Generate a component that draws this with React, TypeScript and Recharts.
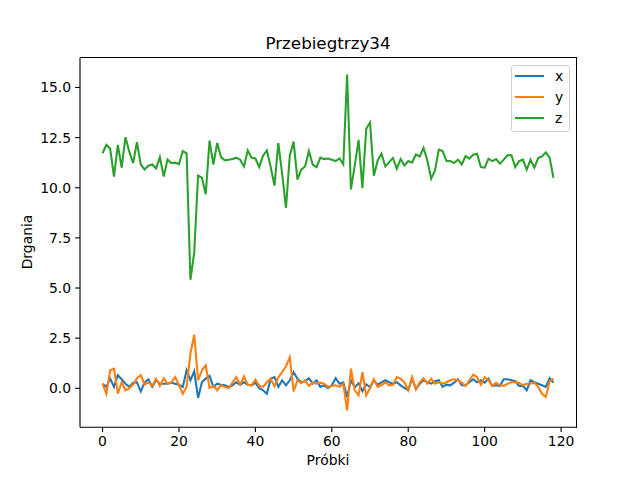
import React from "react";
import { LineChart, Line, XAxis, YAxis } from "recharts";

const samples: number[] = Array.from({ length: 119 }, (_, i) => i);

const xSeries: number[] = [
  0.23, 0.07, 0.48, 0.07, 0.65, 0.45, 0.23, 0.07, 0.28, 0.3,
  -0.15, 0.3, 0.45, 0.07, 0.4, 0.23, 0.23, 0.23, 0.28, 0.23,
  0.18, 0.07, 0.9, 0.4, 0.85, -0.48, 0.3, 0.48, 0.62, 0.07,
  0.23, 0.18, 0.15, 0.07, 0.15, 0.3, 0.18, 0.3, 0.18, 0.15,
  0.28, 0.0, -0.1, -0.27, 0.48, 0.56, 0.07, 0.4, 0.15, 0.4,
  0.8, 0.48, 0.3, 0.35, 0.5, 0.23, 0.4, 0.07, 0.15, 0.02,
  0.15, 0.5, 0.23, 0.3, -0.43, 0.4, 0.05, 0.25, -0.15, 0.2,
  0.05, 0.4, 0.18, 0.3, 0.4, 0.3, 0.23, 0.3, 0.15, 0.02,
  -0.1, 0.5, -0.05, 0.23, 0.4, 0.3, 0.23, 0.35, 0.4, 0.07,
  0.18, 0.15, 0.28, 0.45, 0.15, 0.15, 0.3, 0.45, 0.3, 0.4,
  0.28, 0.48, 0.12, 0.15, 0.12, 0.45, 0.45, 0.4, 0.35, 0.12,
  0.12, -0.1, 0.4, 0.3, 0.23, 0.15, 0.07, 0.5, 0.28,
];

const ySeries: number[] = [
  0.23, -0.27, 0.9, 0.98, -0.27, 0.3, -0.1, 0.0, 0.18, 0.5,
  0.65, 0.18, 0.3, 0.12, 0.48, 0.12, 0.5, 0.23, 0.3, 0.56,
  0.15, -0.27, 0.07, 1.73, 2.67, 0.4, 0.9, 1.15, 0.02, 0.12,
  -0.1, 0.15, 0.07, 0.0, 0.28, 0.56, 0.18, 0.6, 0.18, 0.15,
  0.43, 0.12, 0.07, 0.3, 0.48, 0.1, 0.55, 0.8, 1.1, 1.55,
  -0.15, 0.4, 0.25, 0.4, 0.12, 0.28, 0.23, 0.28, 0.23, 0.07,
  0.12, 0.15, 0.07, 0.23, -1.1, 0.98, -0.1, -0.35, 0.8, -0.35,
  0.0, 0.45, 0.07, 0.15, 0.3, 0.15, 0.18, 0.56, 0.48, 0.3,
  -0.1, 0.56, -0.05, 0.3, 0.5, 0.23, 0.48, 0.23, 0.3, 0.23,
  0.3, 0.4, 0.45, 0.4, 0.28, 0.12, 0.4, 0.68, 0.56, 0.18,
  0.56, 0.4, 0.12, 0.28, 0.15, 0.12, 0.23, 0.3, 0.3, 0.28,
  0.15, 0.23, 0.23, 0.28, 0.07, -0.27, -0.43, 0.35, 0.48,
];

const zSeries: number[] = [
  11.72, 12.14, 11.94, 10.56, 12.14, 11.0, 12.52, 11.8, 11.23, 12.27,
  11.16, 10.91, 11.1, 11.16, 10.96, 11.53, 10.56, 11.41, 11.23, 11.25,
  11.18, 11.83, 11.72, 5.41, 6.79, 10.61, 10.5, 9.67, 12.35, 11.16,
  12.23, 11.53, 11.37, 11.4, 11.43, 11.5, 11.4, 11.06, 11.86, 11.5,
  11.46, 11.03, 11.6, 11.86, 11.03, 10.11, 12.23, 10.7, 9.0, 11.6,
  12.3, 10.4, 10.9, 11.06, 11.83, 11.16, 11.03, 11.5, 11.43, 11.46,
  11.4, 11.33, 11.46, 11.16, 15.65, 9.92, 11.1, 12.39, 9.98, 12.94,
  13.25, 10.6, 11.36, 11.7, 11.06, 11.28, 11.48, 10.95, 11.43, 11.11,
  11.33, 11.25, 11.66, 11.56, 11.98, 11.36, 10.45, 10.86, 11.9, 11.83,
  11.33, 11.33, 11.23, 11.4, 11.16, 11.58, 11.45, 11.65, 11.7, 11.03,
  11.0, 11.45, 11.33, 11.43, 11.2, 11.4, 11.63, 11.62, 11.03, 11.33,
  11.4, 10.9, 11.4, 11.0, 11.48, 11.56, 11.76, 11.5, 10.5,
];

const seriesNames: string[] = ["x", "y", "z"];
const seriesColors: string[] = ["#1f77b4", "#ff7f0e", "#2ca02c"];
const xTicks: number[] = [0, 20, 40, 60, 80, 100, 120];
const yTicks: number[] = [0, 2.5, 5, 7.5, 10, 12.5, 15];

const title = "Przebiegtrzy34";
const xLabel = "Próbki";
const yLabel = "Drgania";

const data = samples.map((s, i) => ({
  s,
  x: xSeries[i],
  y: ySeries[i],
  z: zSeries[i],
}));

const FONT = "'DejaVu Sans', sans-serif";

export default function App() {
  const tickStyle = { fill: "#000", fontSize: 13.9, fontFamily: FONT };
  return (
    <div
      style={{
        position: "absolute",
        left: 0,
        top: 0,
        width: 640,
        height: 480,
        background: "#fff",
        fontFamily: FONT,
      }}
    >
      <LineChart
        width={640}
        height={480}
        data={data}
        margin={{ top: 57.6, right: 64, bottom: 0, left: 0 }}
      >
        <XAxis
          dataKey="s"
          type="number"
          domain={[-5.9, 123.9]}
          ticks={xTicks}
          allowDataOverflow
          height={52.8}
          tickSize={4.9}
          tickMargin={4}
          tick={tickStyle}
          tickLine={{ stroke: "#000", strokeWidth: 1.1 }}
          axisLine={{ stroke: "#000", strokeWidth: 1.1 }}
        />
        <YAxis
          type="number"
          domain={[-1.94, 16.49]}
          ticks={yTicks}
          allowDataOverflow
          width={80}
          tickSize={4.9}
          tickMargin={4}
          tick={tickStyle}
          tickFormatter={(v: number) => v.toFixed(1)}
          tickLine={{ stroke: "#000", strokeWidth: 1.1 }}
          axisLine={{ stroke: "#000", strokeWidth: 1.1 }}
        />
        {seriesNames.map((n, i) => (
          <Line
            key={n}
            dataKey={n}
            type="linear"
            stroke={seriesColors[i]}
            strokeWidth={2.08}
            dot={false}
            activeDot={false}
            isAnimationActive={false}
          />
        ))}
      </LineChart>
      <div
        style={{
          position: "absolute",
          left: 79.5,
          top: 57,
          width: 497,
          height: 370.5,
          boxSizing: "border-box",
          borderTop: "1.1px solid #000",
          borderRight: "1.1px solid #000",
          pointerEvents: "none",
        }}
      />
      <div
        style={{
          position: "absolute",
          left: 0,
          width: 656,
          top: 33,
          textAlign: "center",
          fontSize: 16.7,
          color: "#000",
        }}
      >
        {title}
      </div>
      <div
        style={{
          position: "absolute",
          left: 0,
          width: 656,
          top: 452,
          textAlign: "center",
          fontSize: 13.9,
          color: "#000",
        }}
      >
        {xLabel}
      </div>
      <div
        style={{
          position: "absolute",
          left: 27,
          top: 242,
          fontSize: 13.9,
          color: "#000",
          transform: "translate(-50%, -50%) rotate(-90deg)",
          whiteSpace: "nowrap",
        }}
      >
        {yLabel}
      </div>
      <div
        style={{
          position: "absolute",
          left: 511,
          top: 65,
          width: 59,
          height: 67,
          boxSizing: "border-box",
          border: "1px solid #d0d0d0",
          borderRadius: 3,
          background: "rgba(255,255,255,0.8)",
        }}
      >
        {seriesNames.map((n, i) => (
          <div
            key={n}
            style={{
              position: "absolute",
              left: 3,
              top: 0 + i * 20.8,
              height: 20,
              display: "flex",
              alignItems: "center",
            }}
          >
            <div
              style={{
                width: 29,
                height: 2.08,
                background: seriesColors[i],
                marginRight: 11,
              }}
            />
            <span style={{ fontSize: 13.9, color: "#000", lineHeight: "20px" }}>
              {n}
            </span>
          </div>
        ))}
      </div>
    </div>
  );
}
